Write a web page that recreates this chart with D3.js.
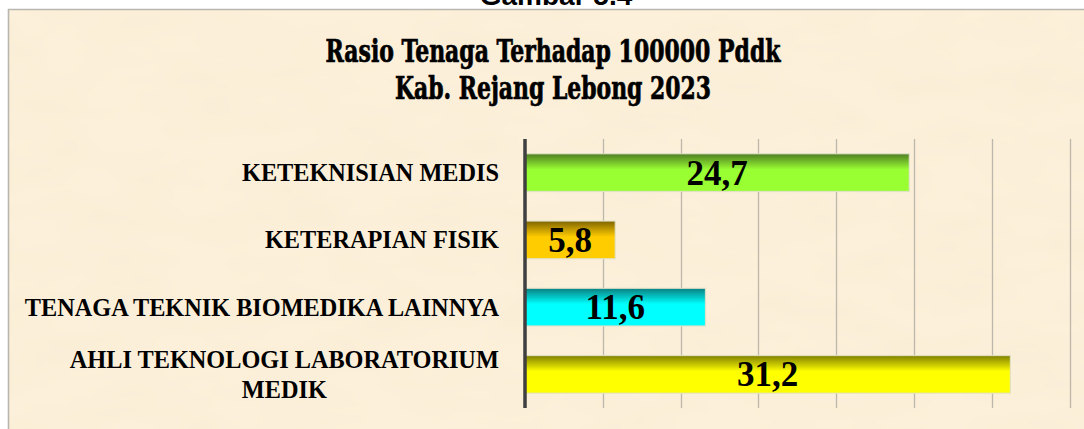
<!DOCTYPE html>
<html>
<head>
<meta charset="utf-8">
<script src="https://cdn.jsdelivr.net/npm/d3@7"></script>
<style>
  html, body { margin: 0; padding: 0; background: #ffffff; }
  svg { display: block; }
</style>
</head>
<body>
<svg id="chart" width="1084" height="429"></svg>
<script>
// ---- data ----
const categories = [
  "KETEKNISIAN MEDIS",
  "KETERAPIAN FISIK",
  "TENAGA TEKNIK BIOMEDIKA LAINNYA",
  "AHLI TEKNOLOGI LABORATORIUM MEDIK"
];
const values = [24.7, 5.8, 11.6, 31.2];
const valueLabels = ["24,7", "5,8", "11,6", "31,2"];
const barColors = ["#99ff33", "#ffcc00", "#00ffff", "#ffff00"];
const barShades = ["#4f7d22", "#7f6400", "#0a7f7f", "#7f7f00"];
const gridTicks = [5, 10, 15, 20, 25, 30, 35];
const titleLines = ["Rasio Tenaga Terhadap 100000 Pddk", "Kab. Rejang Lebong 2023"];
const captionText = "Gambar 5.4";

// ---- layout ----
const W = 1084, H = 429;
const svg = d3.select("#chart");
const defs = svg.append("defs");

// parchment texture
const filt = defs.append("filter").attr("id", "paper").attr("x", 0).attr("y", 0).attr("width", "100%").attr("height", "100%");
filt.append("feTurbulence").attr("type", "fractalNoise").attr("baseFrequency", "0.012 0.03").attr("numOctaves", 3).attr("seed", 7).attr("result", "noise");
filt.append("feColorMatrix").attr("in", "noise").attr("type", "matrix")
  .attr("values", "0 0 0 0 0.82  0 0 0 0 0.72  0 0 0 0 0.52  0 0 0 0.2 -0.06");

// outer white + frame
svg.append("rect").attr("x", 0).attr("y", 0).attr("width", W).attr("height", H).attr("fill", "#ffffff");
svg.append("text")
  .attr("x", 556).attr("y", 5)
  .attr("text-anchor", "middle")
  .attr("font-family", "Liberation Sans, Arial, sans-serif")
  .attr("font-weight", "bold")
  .attr("font-size", 28)
  .attr("fill", "#000")
  .text(captionText);
svg.append("rect").attr("x", 8).attr("y", 9).attr("width", W).attr("height", H).attr("fill", "#fcf0da");
svg.append("rect").attr("x", 8).attr("y", 9).attr("width", W).attr("height", H).attr("filter", "url(#paper)").attr("fill", "#fcf0da");
svg.append("line").attr("x1", 8.5).attr("x2", 8.5).attr("y1", 9).attr("y2", H).attr("stroke", "#b9b6b0").attr("stroke-width", 1.6);
svg.append("line").attr("x1", 8).attr("x2", W).attr("y1", 9.5).attr("y2", 9.5).attr("stroke", "#b9b6b0").attr("stroke-width", 1.6);

// title
const titleG = svg.append("g")
  .attr("font-family", "DejaVu Serif Condensed, DejaVu Serif, serif")
  .attr("font-weight", "bold")
  .attr("font-size", 32)
  .attr("fill", "#000")
  .attr("stroke", "#000")
  .attr("stroke-width", 0.7)
  .attr("text-anchor", "middle");
titleG.append("text").attr("x", 553).attr("y", 62).attr("textLength", 455).attr("lengthAdjust", "spacingAndGlyphs").text(titleLines[0]);
titleG.append("text").attr("x", 553).attr("y", 99).attr("textLength", 316).attr("lengthAdjust", "spacingAndGlyphs").text(titleLines[1]);

// scales
const x = d3.scaleLinear().domain([0, 35]).range([525, 1069.5]);
const y = d3.scaleBand().domain(categories).range([139, 408]).paddingInner(0.44).paddingOuter(0.22);

// gridlines
svg.append("g").selectAll("line").data(gridTicks).join("line")
  .attr("x1", d => Math.round(x(d)) + 0.5).attr("x2", d => Math.round(x(d)) + 0.5)
  .attr("y1", 139).attr("y2", 408)
  .attr("stroke", "#bdb6aa").attr("stroke-width", 1.3);

// gradients
categories.forEach((c, i) => {
  const g = defs.append("linearGradient").attr("id", "grad" + i).attr("x1", 0).attr("y1", 0).attr("x2", 0).attr("y2", 1);
  g.append("stop").attr("offset", "0%").attr("stop-color", barShades[i]);
  g.append("stop").attr("offset", "42%").attr("stop-color", barColors[i]);
  g.append("stop").attr("offset", "100%").attr("stop-color", barColors[i]);
});

// bars
const bars = svg.append("g");
bars.selectAll("rect").data(categories).join("rect")
  .attr("x", x(0))
  .attr("y", d => y(d))
  .attr("width", (d, i) => x(values[i]) - x(0))
  .attr("height", y.bandwidth())
  .attr("fill", (d, i) => `url(#grad${i})`)
  .attr("stroke", "rgba(225,225,200,0.9)")
  .attr("stroke-width", 1.2);

// value labels
svg.append("g").selectAll("text").data(categories).join("text")
  .attr("x", (d, i) => (x(0) + x(values[i])) / 2)
  .attr("y", d => y(d) + y.bandwidth() / 2 + 12)
  .attr("text-anchor", "middle")
  .attr("font-family", "Liberation Serif, Times New Roman, serif")
  .attr("font-weight", "bold")
  .attr("font-size", 35)
  .attr("fill", "#000")
  .text((d, i) => valueLabels[i]);

// axis line
svg.append("line").attr("x1", x(0)).attr("x2", x(0)).attr("y1", 139).attr("y2", 408)
  .attr("stroke", "#3f3f3f").attr("stroke-width", 3.5);

// category labels with wrapping
const labelRight = 499, maxW = 490;
const labG = svg.append("g")
  .attr("font-family", "Liberation Serif, Times New Roman, serif")
  .attr("font-weight", "bold")
  .attr("font-size", 24.3)
  .attr("fill", "#000");
categories.forEach(c => {
  const words = c.split(" ");
  const lines = [];
  let cur = [];
  const probe = labG.append("text");
  words.forEach(w => {
    const test = cur.concat([w]).join(" ");
    probe.text(test);
    if (probe.node().getComputedTextLength() > maxW && cur.length) {
      lines.push(cur.join(" "));
      cur = [w];
    } else cur.push(w);
  });
  lines.push(cur.join(" "));
  const w0 = Math.max(...lines.map(l => { probe.text(l); return probe.node().getComputedTextLength(); }));
  probe.remove();
  const cy = y(c) + y.bandwidth() / 2;
  const lh = 30;
  lines.forEach((l, k) => {
    const ly = cy + (k - (lines.length - 1) / 2) * lh + 8.5;
    labG.append("text")
      .attr("x", lines.length > 1 ? labelRight - w0 / 2 : labelRight)
      .attr("y", ly)
      .attr("text-anchor", lines.length > 1 ? "middle" : "end")
      .attr("transform", `translate(${labelRight},${ly}) scale(1,1.06) translate(${-labelRight},${-ly})`)
      .text(l);
  });
});
</script>
</body>
</html>
